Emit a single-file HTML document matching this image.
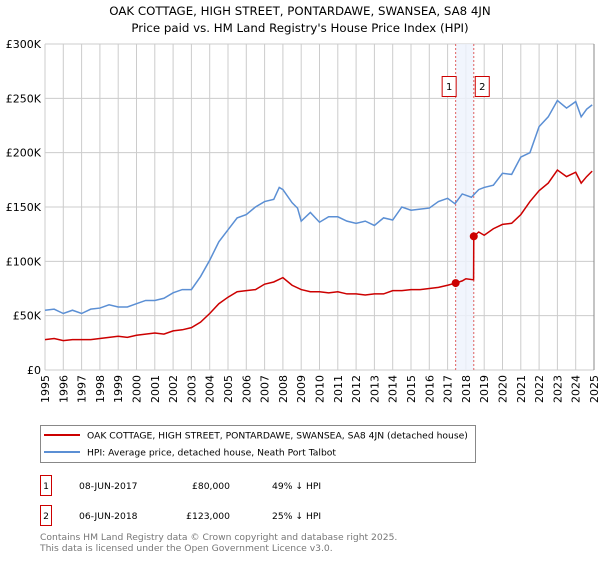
<!DOCTYPE html>
<html><head><meta charset="utf-8">
<style>
body{margin:0;background:#fff;font-family:"DejaVu Sans","Liberation Sans",sans-serif;}
svg text{font-family:"DejaVu Sans","Liberation Sans",sans-serif;}
</style></head>
<body>
<svg id="chart" width="600" height="560" xmlns="http://www.w3.org/2000/svg">
<text x="300" y="15" font-size="11.8" text-anchor="middle" fill="#000">OAK COTTAGE, HIGH STREET, PONTARDAWE, SWANSEA, SA8 4JN</text>
<text x="300" y="32" font-size="11.8" text-anchor="middle" fill="#000">Price paid vs. HM Land Registry's House Price Index (HPI)</text>
<g id="grid"></g>
<g id="shade"></g>
<g id="series"></g>
<g id="axes"></g>
<g>
<rect x="40.5" y="425.5" width="435" height="37" fill="#fff" stroke="#888"/>
<line x1="44" y1="435" x2="80" y2="435" stroke="#cc0000" stroke-width="2"/>
<text x="87" y="438.5" font-size="9.2">OAK COTTAGE, HIGH STREET, PONTARDAWE, SWANSEA, SA8 4JN (detached house)</text>
<line x1="44" y1="452" x2="80" y2="452" stroke="#5b8fd4" stroke-width="2"/>
<text x="87" y="455.5" font-size="9.2">HPI: Average price, detached house, Neath Port Talbot</text>
</g>
<g font-size="9.2">
<rect x="40.5" y="475.5" width="11" height="20" fill="#fff" stroke="#cc0000"/>
<text x="46" y="489" text-anchor="middle">1</text>
<text x="79" y="489">08-JUN-2017</text>
<text x="230" y="489" text-anchor="end">£80,000</text>
<text x="272" y="489">49% ↓ HPI</text>
</g>
<g font-size="9.2">
<rect x="40.5" y="505.5" width="11" height="20" fill="#fff" stroke="#cc0000"/>
<text x="46" y="519" text-anchor="middle">2</text>
<text x="79" y="519">06-JUN-2018</text>
<text x="230" y="519" text-anchor="end">£123,000</text>
<text x="272" y="519">25% ↓ HPI</text>
</g>
<text x="40" y="540" font-size="9.2" fill="#777">Contains HM Land Registry data © Crown copyright and database right 2025.</text>
<text x="40" y="551" font-size="9.2" fill="#777">This data is licensed under the Open Government Licence v3.0.</text>
</svg>
<script>
const yTicks=[0,50,100,150,200,250,300];
const yTickLabels=["£0","£50K","£100K","£150K","£200K","£250K","£300K"];
const xYears=[1995,1996,1997,1998,1999,2000,2001,2002,2003,2004,2005,2006,2007,2008,2009,2010,2011,2012,2013,2014,2015,2016,2017,2018,2019,2020,2021,2022,2023,2024,2025];
const hpiDates=[1995,1995.5,1996,1996.5,1997,1997.5,1998,1998.5,1999,1999.5,2000,2000.5,2001,2001.5,2002,2002.5,2003,2003.5,2004,2004.5,2005,2005.5,2006,2006.5,2007,2007.5,2007.8,2008,2008.5,2008.8,2009,2009.5,2010,2010.5,2011,2011.5,2012,2012.5,2013,2013.5,2014,2014.5,2015,2015.5,2016,2016.5,2017,2017.4,2017.8,2018.3,2018.7,2019,2019.5,2020,2020.5,2021,2021.5,2022,2022.5,2023,2023.5,2024,2024.3,2024.6,2024.9];
const hpiValues=[55,56,52,55,52,56,57,60,58,58,61,64,64,66,71,74,74,86,101,118,129,140,143,150,155,157,168,166,154,149,137,145,136,141,141,137,135,137,133,140,138,150,147,148,149,155,158,153,162,159,166,168,170,181,180,196,200,224,233,248,241,247,233,240,244];
const propDates=[1995,1995.5,1996,1996.5,1997,1997.5,1998,1998.5,1999,1999.5,2000,2000.5,2001,2001.5,2002,2002.5,2003,2003.5,2004,2004.5,2005,2005.5,2006,2006.5,2007,2007.5,2008,2008.5,2009,2009.5,2010,2010.5,2011,2011.5,2012,2012.5,2013,2013.5,2014,2014.5,2015,2015.5,2016,2016.5,2017,2017.44,2017.8,2018,2018.42,2018.43,2018.7,2019,2019.5,2020,2020.5,2021,2021.5,2022,2022.5,2023,2023.5,2024,2024.3,2024.6,2024.9];
const propValues=[28,29,27,28,28,28,29,30,31,30,32,33,34,33,36,37,39,44,52,61,67,72,73,74,79,81,85,78,74,72,72,71,72,70,70,69,70,70,73,73,74,74,75,76,78,80,82,84,83,123,127,124,130,134,135,143,155,165,172,184,178,182,172,178,183];
const saleDates=[2017.44,2018.43];
const saleValues=[80,123];
const saleLabels=["1","2"];

const X0=45,X1=594,Y0=370,Y1=44;
const xs=t=>X0+(t-1995)/(2025-1995)*(X1-X0);
const ys=v=>Y0-v/300*(Y0-Y1);
const NS="http://www.w3.org/2000/svg";
function mk(tag,parent,attrs){const e=document.createElementNS(NS,tag);for(const k in attrs)e.setAttribute(k,attrs[k]);parent.appendChild(e);return e;}
const grid=document.getElementById('grid'),axes=document.getElementById('axes'),shade=document.getElementById('shade'),series=document.getElementById('series');
yTicks.forEach((v,i)=>{
 const l=mk('line',grid,{x1:X0,x2:X1,y1:ys(v),y2:ys(v),stroke:'#ccc','stroke-width':1});
 
 
 const t=mk('text',axes,{x:X0-4,y:ys(v)+4,'font-size':11,'text-anchor':'end'});
 t.textContent=yTickLabels[i];
 
 
});
xYears.forEach(yr=>{
 const l=mk('line',grid,{x1:xs(yr),x2:xs(yr),y1:Y1,y2:Y0,stroke:'#ccc','stroke-width':1});
 
 
 const x=xs(yr),y=Y0+5;
 const t=mk('text',axes,{x:x+4,y:y,'font-size':11,'text-anchor':'end',transform:`rotate(-90 ${x+4} ${y})`});
 t.textContent=yr;
 
 
});
const sh=mk('rect',shade,{x:xs(saleDates[0]),y:Y1,width:xs(saleDates[1])-xs(saleDates[0]),height:Y0-Y1,fill:'#eef3fc',opacity:0.8});


saleDates.forEach((d,i)=>{
 const l=mk('line',shade,{x1:xs(d),x2:xs(d),y1:Y1,y2:Y0,stroke:'#e06060','stroke-width':1,'stroke-dasharray':'2,2'});
 
 
 const bx=xs(d)-(i===0?14:-1);
 const r=mk('rect',shade,{x:bx+0.5,y:76.5,width:14,height:20,fill:'#fff',stroke:'#cc0000'});
 
 
 const t=mk('text',shade,{x:bx+7.5,y:90,'font-size':10,'text-anchor':'middle'});
 t.textContent=saleLabels[i];
 
 
});
const hp=mk('polyline',series,{points:hpiDates.map((d,i)=>xs(d)+','+ys(hpiValues[i])).join(' '),fill:'none',stroke:'#5b8fd4','stroke-width':1.5});


const pp=mk('polyline',series,{points:propDates.map((d,i)=>xs(d)+','+ys(propValues[i])).join(' '),fill:'none',stroke:'#cc0000','stroke-width':1.5});


saleDates.forEach((d,i)=>{
 const c=mk('circle',series,{cx:xs(d),cy:ys(saleValues[i]),r:4,fill:'#cc0000'});
 
 
});
const ax=mk('line',axes,{x1:X1,x2:X1,y1:Y1,y2:Y0,stroke:'#888','stroke-width':1});


</script>
</body></html>
